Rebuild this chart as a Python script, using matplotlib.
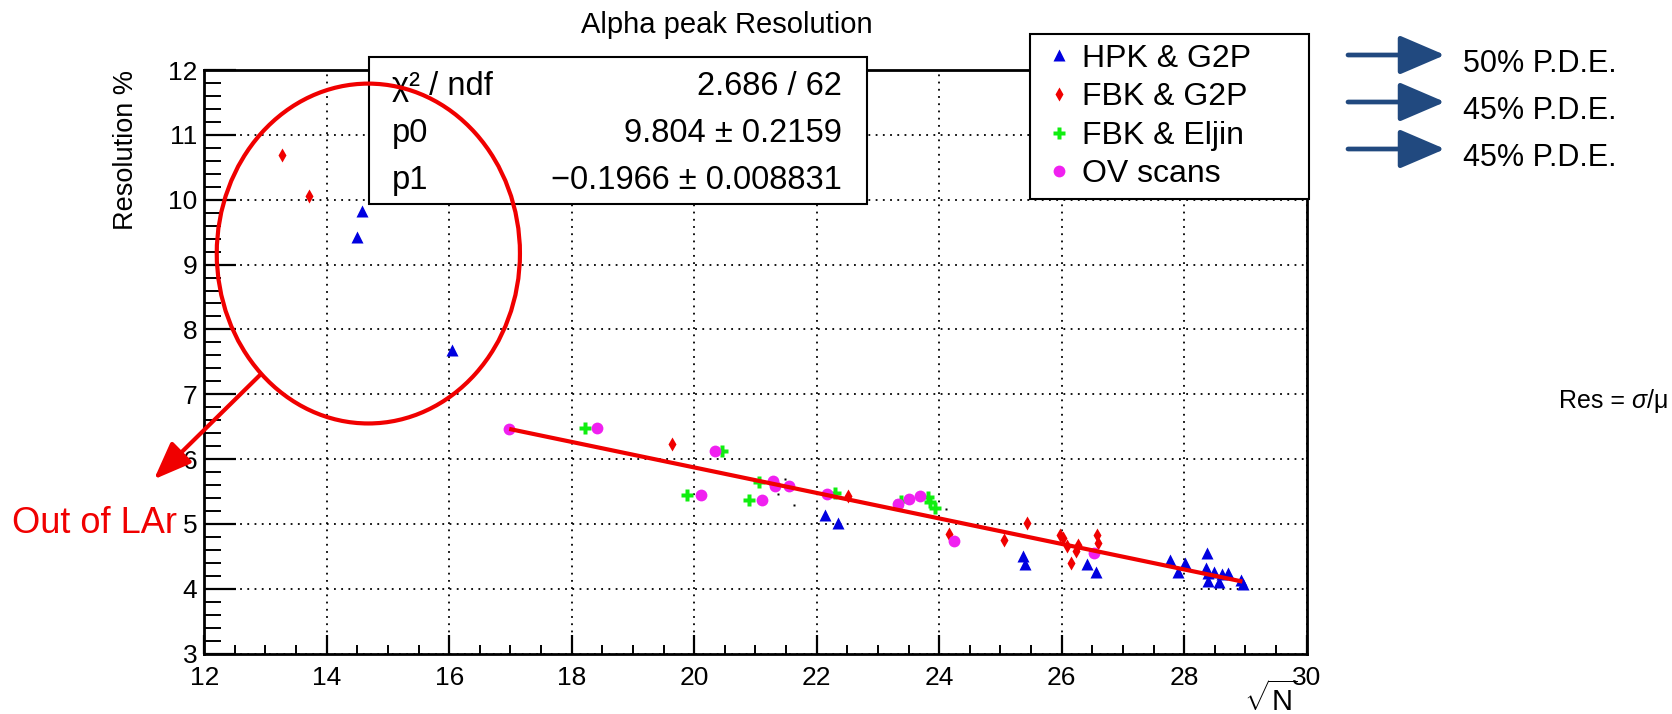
import numpy as np
import matplotlib
matplotlib.use("Agg")
import matplotlib.pyplot as plt
from matplotlib.patches import Ellipse, Rectangle
from matplotlib.ticker import MultipleLocator

plt.rcParams['font.family'] = ['Liberation Sans', 'DejaVu Sans']
plt.rcParams['mathtext.fontset'] = 'custom'
plt.rcParams['mathtext.rm'] = 'Liberation Sans'
plt.rcParams['mathtext.it'] = 'Liberation Sans:italic'

# ---------------- data ----------------
hpk_g2p_x = [14.58, 14.50, 16.05, 22.14, 22.34, 25.36, 25.40, 26.41, 26.56, 27.76, 27.90,
             28.02, 28.38, 28.36, 28.39, 28.39, 28.48, 28.56, 28.61, 28.71, 28.92, 28.96]
hpk_g2p_y = [9.83, 9.43, 7.68, 5.14, 5.01, 4.51, 4.39, 4.39, 4.26, 4.45, 4.26,
             4.40, 4.55, 4.32, 4.24, 4.12, 4.26, 4.10, 4.23, 4.24, 4.14, 4.08]

fbk_g2p_x = [13.27, 13.71, 19.63, 22.51, 24.16, 25.05, 25.44, 25.97, 26.02, 26.08,
             26.27, 26.24, 26.15, 26.57, 26.60]
fbk_g2p_y = [10.69, 10.06, 6.23, 5.43, 4.85, 4.75, 5.02, 4.83, 4.79, 4.66,
             4.68, 4.59, 4.40, 4.83, 4.71]

fbk_eljin_x = [18.21, 20.46, 19.89, 21.06, 20.89, 22.30, 23.37, 23.82, 23.85, 23.93]
fbk_eljin_y = [6.48, 6.13, 5.45, 5.65, 5.37, 5.48, 5.36, 5.42, 5.34, 5.24]

ov_x = [16.98, 18.41, 20.34, 20.11, 21.29, 21.32, 21.55, 21.11, 22.16, 23.33,
        23.50, 23.69, 24.24, 26.52]
ov_y = [6.46, 6.48, 6.13, 5.45, 5.66, 5.59, 5.59, 5.37, 5.47, 5.31,
        5.38, 5.43, 4.74, 4.56]

other_x = [21.49, 21.37, 21.63, 24.11]
other_y = [5.69, 5.46, 5.29, 5.23]

fit_p0 = 9.804
fit_p1 = -0.1966
fit_range = [16.98, 28.95]

series_labels = ["HPK & G2P", "FBK & G2P", "FBK & Eljin", "OV scans"]
pde_labels = ["50% P.D.E.", "45% P.D.E.", "45% P.D.E."]
stats_names = ["χ² / ndf", "p0", "p1"]
stats_values = ["2.686 / 62", "9.804 ± 0.2159", "−0.1966 ± 0.008831"]

x_ticks = list(range(12, 31, 2))
y_ticks = list(range(3, 13))

# ---------------- figure ----------------
W, H = 1672, 714
fig = plt.figure(figsize=(W / 100, H / 100), dpi=100)
fig.patch.set_facecolor('white')

def fx(px):
    return px / W

def fy(py):
    return 1 - py / H

ax = fig.add_axes([fx(204.2), fy(653.7), fx(1306.7) - fx(204.2), fy(70) - fy(653.7)])
ax.set_xlim(12, 30)
ax.set_ylim(3, 12)
ax.set_xticks(x_ticks)
ax.set_yticks(y_ticks)
ax.xaxis.set_minor_locator(MultipleLocator(0.5))
ax.yaxis.set_minor_locator(MultipleLocator(0.2))
ax.tick_params(axis='both', which='both', direction='in', top=False, right=False,
               labelsize=19, colors='black')
ax.tick_params(axis='y', which='major', length=23, width=1.6, pad=5)
ax.tick_params(axis='y', which='minor', length=12, width=1.4)
ax.tick_params(axis='x', which='major', length=14, width=1.6, pad=9)
ax.tick_params(axis='x', which='minor', length=6.5, width=1.4)
for s in ax.spines.values():
    s.set_linewidth(2.0)
    s.set_color('black')
ax.grid(True, which='major', color='black', linestyle=(0, (1, 3)), linewidth=1.3)

blue = '#0000e0'
red = '#f00000'
green = '#10ee10'
magenta = '#f020f0'

h1, = ax.plot(hpk_g2p_x, hpk_g2p_y, linestyle='none', marker='^', ms=8.5, mec='none', color=blue, zorder=3)
h2, = ax.plot(fbk_g2p_x, fbk_g2p_y, linestyle='none', marker='d', ms=7.5, mec='none', color=red, zorder=3)
h3, = ax.plot(fbk_eljin_x, fbk_eljin_y, linestyle='none', marker='P', ms=8, mec='none', color=green, zorder=3)
h4, = ax.plot(ov_x, ov_y, linestyle='none', marker='o', ms=8.5, mec='none', color=magenta, zorder=3)
ax.plot(other_x, other_y, linestyle='none', marker='s', ms=1.6, mec='none', color='black', zorder=3)

fx_line = np.array(fit_range)
ax.plot(fx_line, fit_p0 + fit_p1 * fx_line, color=red, lw=3, zorder=4, solid_capstyle='butt')

# title and axis labels
fig.text(fx(727), fy(33), "Alpha peak Resolution", ha='center', va='baseline', fontsize=21)
fig.text(fx(126), fy(70), "Resolution %", rotation=90, ha='center', va='top', fontsize=19.5)
fig.text(fx(1298), fy(711), r"$\sqrt{\mathrm{N}}$", ha='right', va='baseline', fontsize=21)

# stats box
stat_box = Rectangle((fx(369), fy(203.5)), fx(867) - fx(369), fy(57) - fy(203.5),
                     transform=fig.transFigure, facecolor='white', edgecolor='black',
                     lw=1.5, clip_on=False, zorder=5)
ax.add_patch(stat_box)
for i, (nm, val) in enumerate(zip(stats_names, stats_values)):
    base = 95 + 47 * i
    ax.text(fx(392), fy(base), nm, transform=fig.transFigure, ha='left', va='baseline',
            fontsize=23.5, zorder=6, clip_on=False)
    ax.text(fx(842), fy(base), val, transform=fig.transFigure, ha='right', va='baseline',
            fontsize=23.5, zorder=6, clip_on=False)

# legend
leg = ax.legend([h1, h2, h3, h4], series_labels, loc='upper left',
                bbox_to_anchor=(fx(1030), fy(217.5), fx(1309) - fx(1030), fy(34) - fy(217.5)),
                bbox_transform=fig.transFigure, mode='expand', borderaxespad=0,
                fontsize=23, frameon=True, fancybox=False, framealpha=1,
                edgecolor='black', borderpad=0.3, labelspacing=0.27,
                handlelength=1.2, handletextpad=0.12, numpoints=1)
leg.get_frame().set_linewidth(1.5)
leg.set_zorder(7)

# red ellipse + arrow + text
ell = Ellipse((14.68, 9.17), 4.95, 5.24, fill=False, edgecolor=red, lw=3, zorder=8, clip_on=False)
ax.add_patch(ell)
ax.annotate('', xy=(fx(154), fy(479.3)), xytext=(fx(260), fy(375)),
            xycoords='figure fraction', textcoords='figure fraction',
            arrowprops=dict(arrowstyle='-|>,head_length=1.15,head_width=0.45', color=red,
                            lw=3, mutation_scale=20, shrinkA=0, shrinkB=0), zorder=8)
fig.text(fx(12), fy(533), "Out of LAr", color=red, ha='left', va='baseline', fontsize=26)

# blue arrows and PDE text
arrow_col = '#21497f'
for i, lab in enumerate(pde_labels):
    ya = 55 + 47 * i
    ax.annotate('', xy=(fx(1445), fy(ya)), xytext=(fx(1348), fy(ya)),
                xycoords='figure fraction', textcoords='figure fraction',
                arrowprops=dict(arrowstyle='-|>,head_length=1.4,head_width=0.6', color=arrow_col,
                                lw=3.4, mutation_scale=20, shrinkA=0, shrinkB=0))
    fig.text(fx(1463), fy(72 + 47 * i), lab, ha='left', va='baseline', fontsize=22)

# Res = sigma/mu, built in pieces so that sigma is italic; kept inside the right edge
renderer = fig.canvas.get_renderer()
yr = fy(408)
res_fs = 18
pieces = [("Res = ", 'normal'), ("σ", 'italic'), ("/μ", 'normal')]
xcur = 1564.0
texts = []
for s, st in pieces:
    t = fig.text(xcur / W, yr, s, ha='left', va='baseline', fontsize=res_fs, style=st)
    bbx = t.get_window_extent(renderer)
    xcur = bbx.x1
    texts.append(t)
overflow = xcur - (W - 4)
if overflow > 0:
    for t in texts:
        px, py = t.get_position()
        t.set_position((px - overflow / W, py))

fig.savefig("out.png", dpi=100, facecolor='white')
